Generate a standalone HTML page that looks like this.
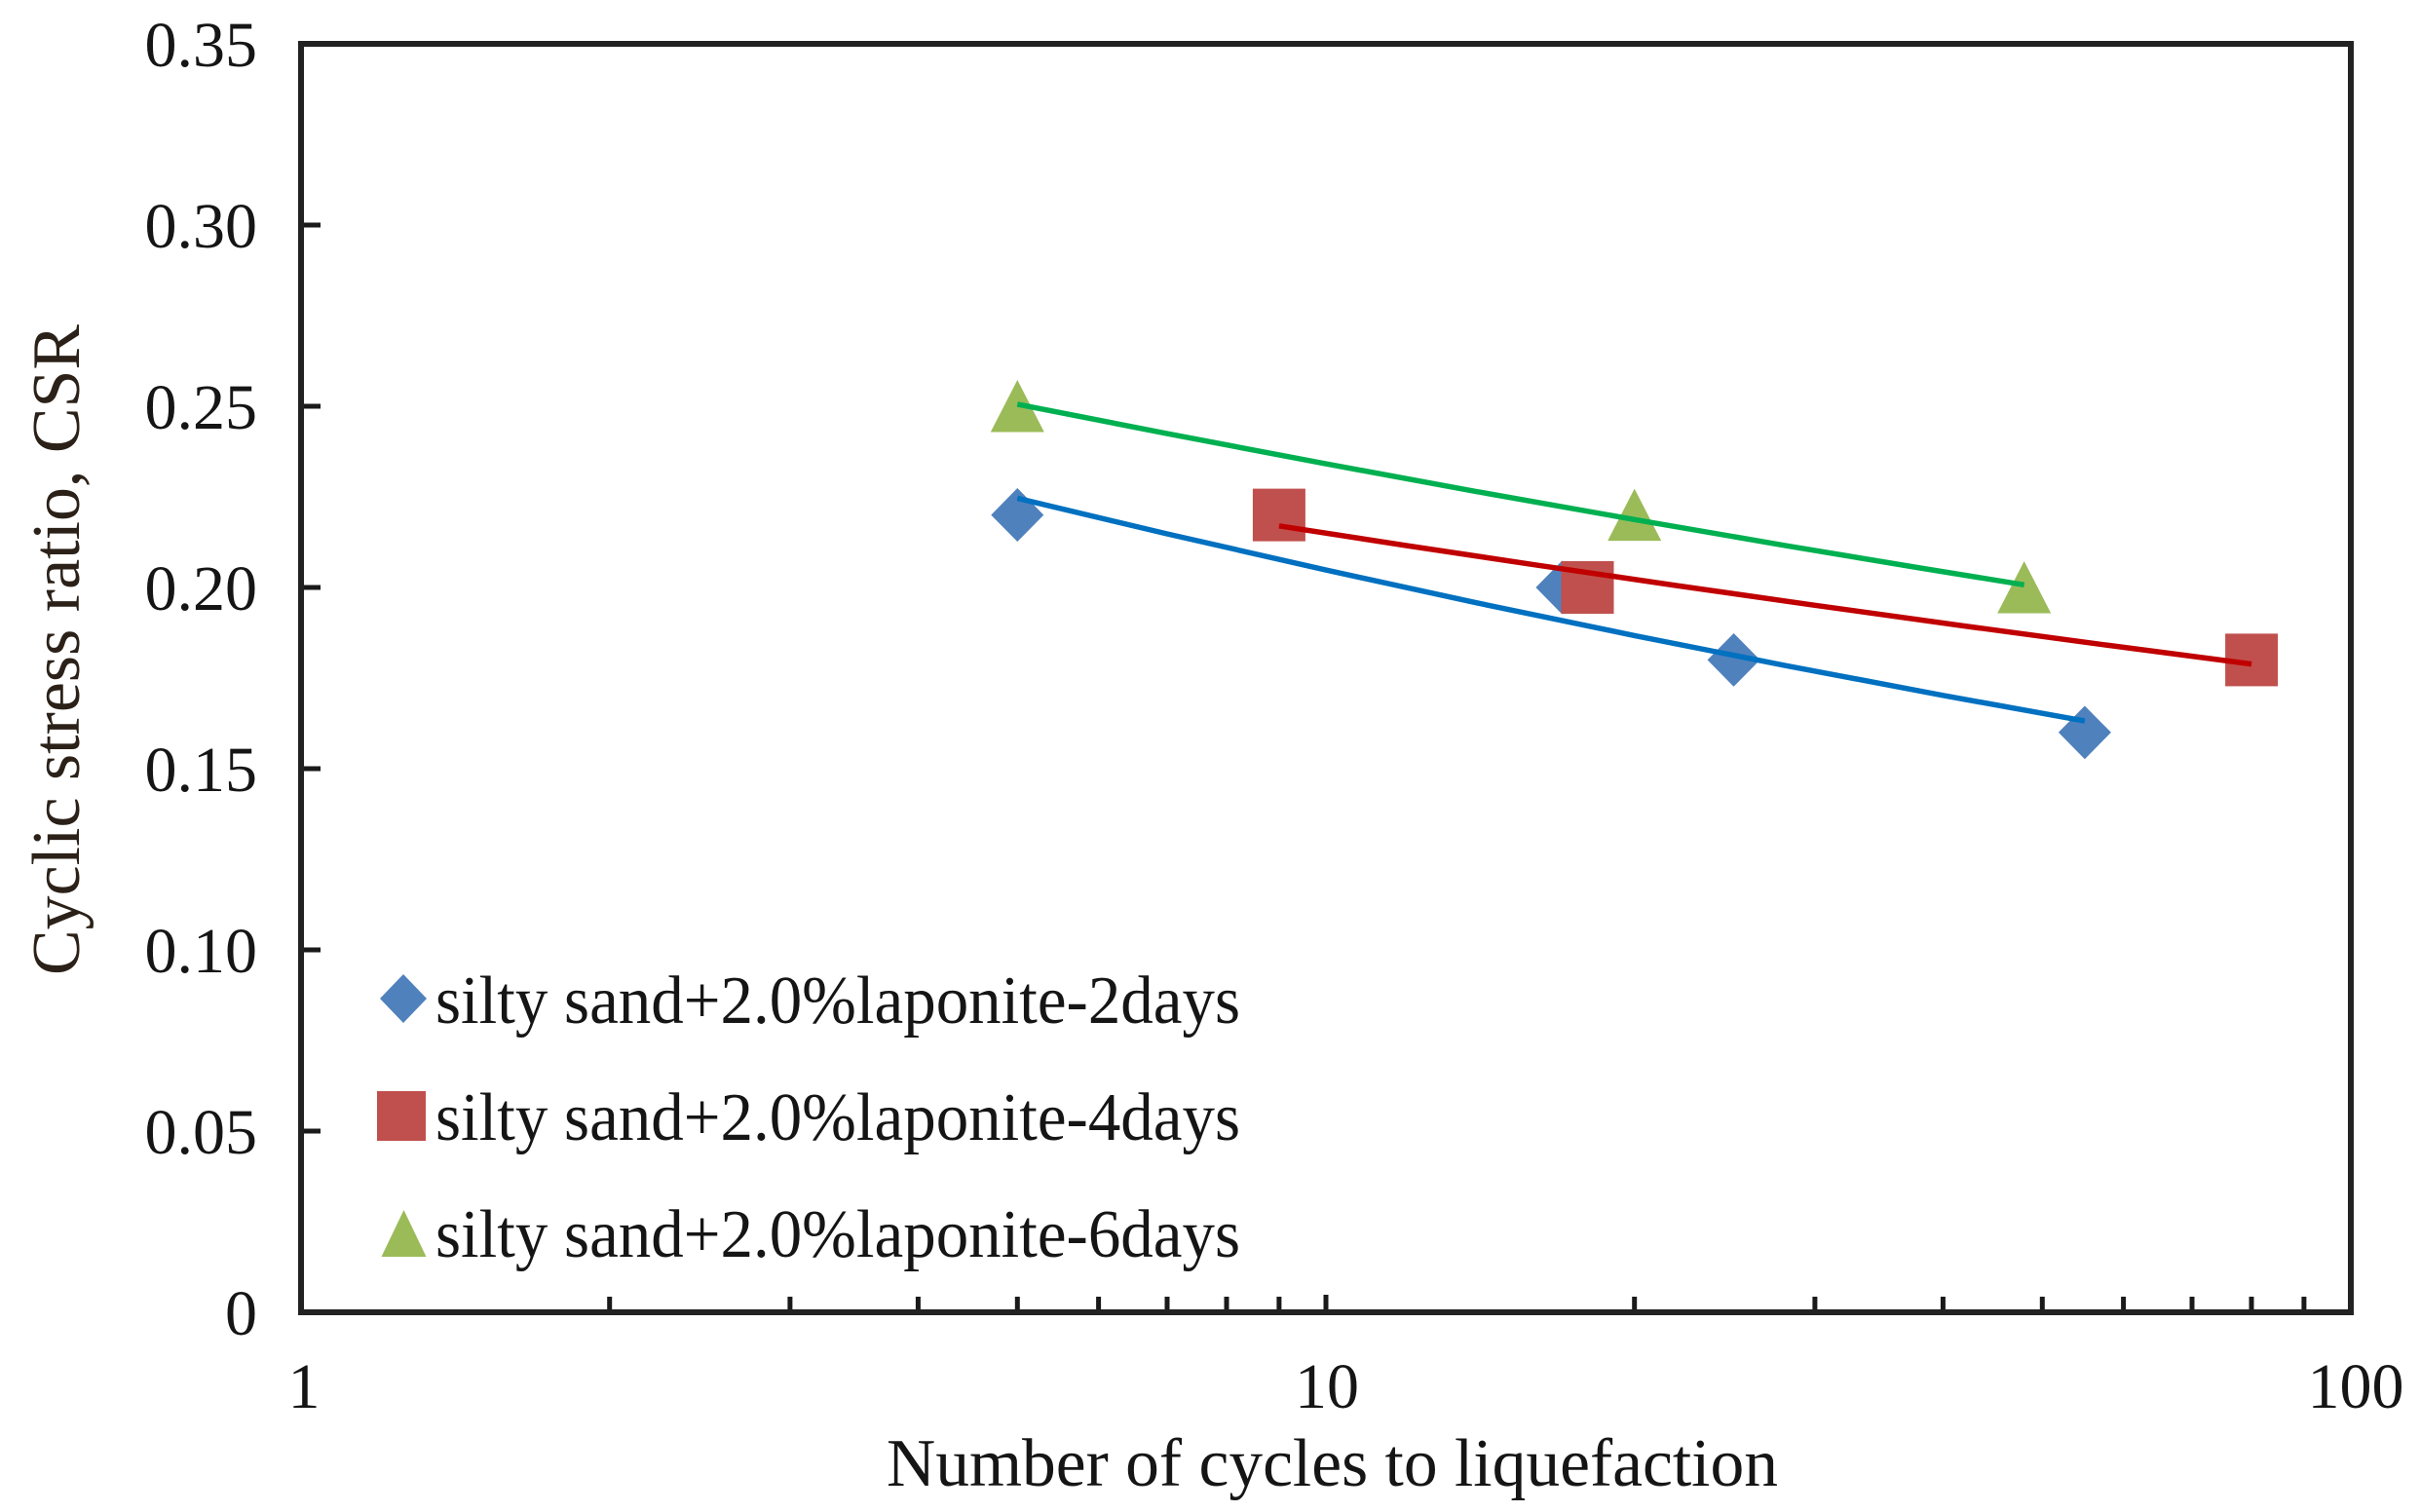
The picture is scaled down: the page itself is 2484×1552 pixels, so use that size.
<!DOCTYPE html>
<html>
<head>
<meta charset="utf-8">
<style>
  html, body { margin: 0; padding: 0; background: #ffffff; }
  body { width: 2484px; height: 1552px; overflow: hidden; }
  svg { display: block; }
  text { font-family: "Liberation Serif", "Times New Roman", serif; fill: #151515; }
</style>
</head>
<body>
<svg width="2484" height="1552" viewBox="0 0 2484 1552" xmlns="http://www.w3.org/2000/svg">
  <rect x="0" y="0" width="2484" height="1552" fill="#ffffff"/>

  <!-- Y tick labels -->
  <g font-size="66" text-anchor="end">
    <text x="264" y="68">0.35</text>
    <text x="264" y="254">0.30</text>
    <text x="264" y="440">0.25</text>
    <text x="264" y="626">0.20</text>
    <text x="264" y="812">0.15</text>
    <text x="264" y="998">0.10</text>
    <text x="264" y="1184">0.05</text>
    <text x="264" y="1370">0</text>
  </g>

  <!-- X tick labels -->
  <g font-size="66" text-anchor="middle">
    <text x="312" y="1445">1</text>
    <text x="1362" y="1445">10</text>
    <text x="2418" y="1445">100</text>
  </g>

  <!-- Axis titles -->
  <text x="910" y="1525" font-size="70" textLength="915" lengthAdjust="spacingAndGlyphs">Number of cycles to liquefaction</text>
  <text transform="translate(81,1001) rotate(-90)" x="0" y="0" font-size="70" textLength="668" lengthAdjust="spacingAndGlyphs" style="fill:#2b2118">Cyclic stress ratio, CSR</text>

  <!-- Ticks -->
  <g stroke="#1a1a1a" stroke-width="5">
    <line x1="309" y1="231" x2="329" y2="231"/>
    <line x1="309" y1="417" x2="329" y2="417"/>
    <line x1="309" y1="603" x2="329" y2="603"/>
    <line x1="309" y1="789" x2="329" y2="789"/>
    <line x1="309" y1="975" x2="329" y2="975"/>
    <line x1="309" y1="1161" x2="329" y2="1161"/>
    <line x1="625.7" y1="1347" x2="625.7" y2="1331"/>
    <line x1="810.9" y1="1347" x2="810.9" y2="1331"/>
    <line x1="942.4" y1="1347" x2="942.4" y2="1331"/>
    <line x1="1044.3" y1="1347" x2="1044.3" y2="1331"/>
    <line x1="1127.6" y1="1347" x2="1127.6" y2="1331"/>
    <line x1="1198.0" y1="1347" x2="1198.0" y2="1331"/>
    <line x1="1259.0" y1="1347" x2="1259.0" y2="1331"/>
    <line x1="1312.9" y1="1347" x2="1312.9" y2="1331"/>
    <line x1="1361" y1="1347" x2="1361" y2="1329"/>
    <line x1="1677.7" y1="1347" x2="1677.7" y2="1331"/>
    <line x1="1862.9" y1="1347" x2="1862.9" y2="1331"/>
    <line x1="1994.4" y1="1347" x2="1994.4" y2="1331"/>
    <line x1="2096.3" y1="1347" x2="2096.3" y2="1331"/>
    <line x1="2179.6" y1="1347" x2="2179.6" y2="1331"/>
    <line x1="2250.0" y1="1347" x2="2250.0" y2="1331"/>
    <line x1="2311.0" y1="1347" x2="2311.0" y2="1331"/>
    <line x1="2364.9" y1="1347" x2="2364.9" y2="1331"/>
  </g>

  <!-- Data markers: blue diamonds -->
  <g fill="#4F81BD">
    <polygon points="1044.3,501 1071.3,528.6 1044.3,556 1017.3,528.6"/>
    <polygon points="1603.4,575.5 1630.4,603 1603.4,630.5 1576.4,603"/>
    <polygon points="1779.6,650 1806.6,677.4 1779.6,704.8 1752.6,677.4"/>
    <polygon points="2139.9,724.5 2166.9,751.8 2139.9,779.2 2112.9,751.8"/>
  </g>
  <!-- red squares -->
  <g fill="#C0504D">
    <rect x="1285.9" y="501.6" width="54" height="54"/>
    <rect x="1602.5" y="576" width="54" height="54"/>
    <rect x="2284.1" y="650.4" width="54" height="54"/>
  </g>
  <!-- green triangles -->
  <g fill="#9BBB59">
    <polygon points="1044.3,390 1071.8,443.5 1016.8,443.5"/>
    <polygon points="1677.7,501.6 1705.2,555.1 1650.2,555.1"/>
    <polygon points="2077.7,576 2105.2,629.5 2050.2,629.5"/>
  </g>

  <!-- Trendlines -->
  <g fill="none" stroke-width="5.5" stroke-linejoin="round" stroke-linecap="butt">
    <polyline stroke="#0070C0" points="1044.3,511.4 1198.0,548.0 1361,585.1 1514.7,618.6 1677.7,652.4 1831.4,682.9 1994.4,713.8 2139.9,740.1"/>
    <polyline stroke="#C00000" points="1312.9,539.8 1444.3,560.1 1575.7,579.8 1721.2,601.1 1862.9,621.3 2016.7,642.6 2164.1,662.4 2311.1,681.6"/>
    <polyline stroke="#00B050" points="1044.3,414.9 1198.0,445.1 1361,476.1 1514.7,504.4 1677.7,533.3 1831.4,559.8 1970.9,583.0 2077.7,600.3"/>
  </g>

  <!-- Plot frame -->
  <rect x="309" y="45" width="2104" height="1302" fill="none" stroke="#222222" stroke-width="6"/>

  <!-- Legend -->
  <polygon points="414,1000 438,1025 414,1050 390,1025" fill="#4F81BD"/>
  <rect x="387" y="1120" width="50" height="51" fill="#C0504D"/>
  <polygon points="414.5,1242 437.5,1290 391.5,1290" fill="#9BBB59"/>
  <g font-size="70" style="fill:#1e1e1e">
    <text x="447" y="1050" textLength="826" lengthAdjust="spacingAndGlyphs">silty sand+2.0%laponite-2days</text>
    <text x="447" y="1170" textLength="826" lengthAdjust="spacingAndGlyphs">silty sand+2.0%laponite-4days</text>
    <text x="447" y="1290" textLength="826" lengthAdjust="spacingAndGlyphs">silty sand+2.0%laponite-6days</text>
  </g>
</svg>
</body>
</html>
